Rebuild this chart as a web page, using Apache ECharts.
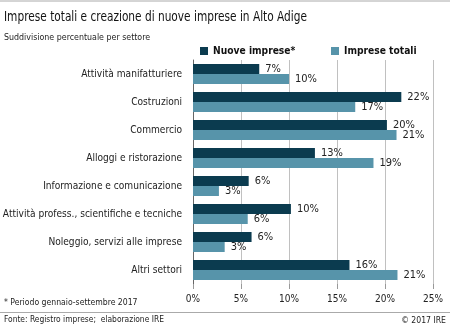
<!DOCTYPE html>
<html><head><meta charset="utf-8">
<script src="https://cdn.jsdelivr.net/npm/echarts@6/dist/echarts.min.js"></script>
<style>html,body{margin:0;padding:0;background:#fff}#c{width:450px;height:333px}</style>
</head><body><div id="c"></div>
<script>
const categories = ["Attività manifatturiere","Costruzioni","Commercio","Alloggi e ristorazione","Informazione e comunicazione","Attività profess., scientifiche e tecniche","Noleggio, servizi alle imprese","Altri settori"];
const nuoveImprese = [6.9, 21.7, 20.2, 12.7, 5.8, 10.2, 6.1, 16.3];
const impreseTotali = [10.0, 16.9, 21.2, 18.8, 2.7, 5.7, 3.3, 21.3];
const xTicks = [0, 5, 10, 15, 20, 25];
const F = '"Liberation Sans Narrow","DejaVu Sans Condensed","Roboto Condensed",sans-serif';
const chart = echarts.init(document.getElementById('c'), null, {renderer:'canvas'});
const lbl = {show:true, position:'right', distance:6, fontFamily:F, fontSize:11, color:'#222', formatter:p=>Math.round(p.value)+'%'};
const legText = {fontFamily:F, fontSize:10.2, fontWeight:'bold', color:'#111'};
chart.setOption({
  animation:false,
  textStyle:{fontFamily:F},
  legend:[
    {top:46, left:200, padding:0, itemWidth:8, itemHeight:8, itemGap:5, icon:'rect', textStyle:legText, data:['Nuove imprese*']},
    {top:46, left:331, padding:0, itemWidth:8, itemHeight:8, itemGap:5, icon:'rect', textStyle:legText, data:['Imprese totali']}
  ],
  grid:{left:193, right:17, top:60, bottom:49, outerBoundsMode:'none', containLabel:false},
  xAxis:{type:'value', min:xTicks[0], max:xTicks[xTicks.length-1], interval:5,
    axisLine:{show:false}, axisTick:{show:true, length:5, lineStyle:{color:'#999'}},
    axisLabel:{fontFamily:F, fontSize:10, color:'#222', margin:10, formatter:v=>v+'%'},
    splitLine:{lineStyle:{color:'#c0c0c0'}}},
  yAxis:{type:'category', data:categories, inverse:true,
    axisLine:{lineStyle:{color:'#666', width:1}}, axisTick:{show:false},
    axisLabel:{fontFamily:F, fontSize:10.1, color:'#222', margin:11}},
  series:[
    {name:'Nuove imprese*', type:'bar', data:nuoveImprese, barWidth:10, barGap:'0%', itemStyle:{color:'#0b3b4f'}, label:lbl},
    {name:'Imprese totali', type:'bar', data:impreseTotali, barWidth:10, barGap:'0%', itemStyle:{color:'#5794aa'}, label:lbl}
  ],
  graphic:[
    {type:'line', shape:{x1:0,y1:1,x2:450,y2:1}, style:{stroke:'#aaa', lineWidth:1}},
    {type:'text', x:4, y:10, scaleX:0.84, style:{text:'Imprese totali e creazione di nuove imprese in Alto Adige', font:'14px '+F, fill:'#111'}},
    {type:'text', x:4, y:33, style:{text:'Suddivisione percentuale per settore', font:'8.8px '+F, fill:'#222'}},
    {type:'line', shape:{x1:0,y1:312.5,x2:450,y2:312.5}, style:{stroke:'#aaa', lineWidth:1}},
    {type:'text', x:4, y:298, style:{text:'* Periodo gennaio-settembre 2017', font:'8.6px '+F, fill:'#222'}},
    {type:'text', x:4, y:316, style:{text:'Fonte: Registro imprese;  elaborazione IRE', font:'8.4px '+F, fill:'#222'}},
    {type:'text', x:446, y:316, style:{text:'© 2017 IRE', font:'8.6px '+F, fill:'#222', align:'right'}}
  ]
});
</script></body></html>
